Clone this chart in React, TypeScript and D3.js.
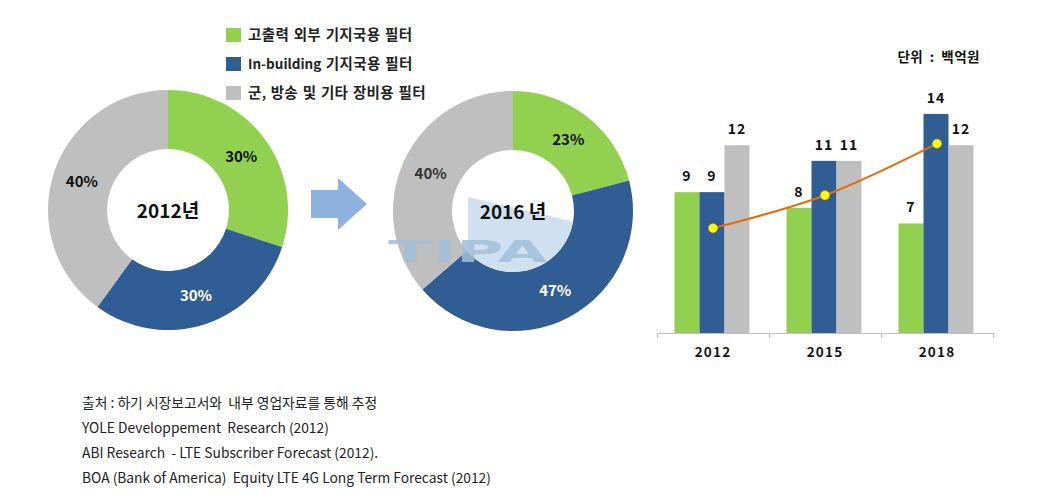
import React from "react";
import * as d3 from "d3";

const seriesNames = ["고출력 외부 기지국용 필터", "In-building 기지국용 필터", "군, 방송 및 기타 장비용 필터"];
const seriesColors = ["#92D050", "#305D93", "#BFBFBF"];

const donut2012 = [30, 30, 40];
const donut2016 = [23, 47, 40];
const donutTitles = ["2012년", "2016 년"];

const years = ["2012", "2015", "2018"];
const barGreen = [9, 8, 7];
const barBlue = [9, 11, 14];
const barGray = [12, 11, 12];
const lineValues = [6.7, 8.8, 12.1];

const unitLabel = "단위 : 백억원";
const watermark = "TIPA";
const sourceLines = [
  "출처 : 하기 시장보고서와  내부 영업자료를 통해 추정",
  "YOLE Developpement  Research (2012)",
  "ABI Research  - LTE Subscriber Forecast (2012).",
  "BOA (Bank of America)  Equity LTE 4G Long Term Forecast (2012)",
];

const FONT = "'Noto Sans CJK KR', 'Noto Sans', sans-serif";
const INNER = 61;
const OUTER = 120;

function splitRuns(s: string) {
  return s.split(/([가-힣]+)/).filter((p) => p.length > 0);
}

function Donut({ cx, cy, values, title, labelColors, children }: { cx: number; cy: number; values: number[]; title: string; labelColors: string[]; children?: React.ReactNode }) {
  const pie = d3.pie<number>().sort(null).value((d) => d);
  const arcs = pie(values);
  const arc = d3.arc<d3.PieArcDatum<number>>().innerRadius(INNER).outerRadius(OUTER);
  return (
    <g transform={`translate(${cx},${cy})`}>
      {arcs.map((a, i) => (
        <path key={i} d={arc(a) || ""} fill={seriesColors[i]} />
      ))}
      {children}
      {arcs.map((a, i) => {
        const [x, y] = arc.centroid(a);
        return (
          <text key={"l" + i} x={x} y={y} dy="0.35em" textAnchor="middle" fontSize={15} fontWeight="bold" fill={labelColors[i]} fontFamily={FONT}>
            {values[i]}%
          </text>
        );
      })}
      <text x={0} y={1} dy="0.35em" textAnchor="middle" fontSize={19} fontWeight="bold" fill="#111" fontFamily={FONT}>
        {title}
      </text>
    </g>
  );
}

export default function App() {
  const x0 = d3.scaleBand<string>().domain(years).range([657, 993]).paddingInner(0).paddingOuter(0);
  const y = d3.scaleLinear().domain([0, 14]).range([333, 333 - 14 * 15.65]);
  const barW = 25;
  const barSeries = [barGreen, barBlue, barGray];
  const cxOf = (yr: string) => (x0(yr) || 0) + x0.bandwidth() / 2;
  const line = d3
    .line<number>()
    .x((_, i) => cxOf(years[i]))
    .y((d) => y(d))
    .curve(d3.curveCatmullRom.alpha(0.5));

  return (
    <svg width={1043} height={499} style={{ position: "absolute", left: 0, top: 0, background: "#fff" }}>
      <defs>
        <clipPath id="innerClip">
          <circle cx={0} cy={0} r={INNER} />
        </clipPath>
      </defs>
      <rect width={1043} height={499} fill="#fff" />
      {/* Legend */}
      {seriesNames.map((n, i) => (
        <g key={n} transform={`translate(226,${28 + i * 29})`}>
          <rect width={15} height={14} fill={seriesColors[i]} />
          <text x={22} y={7} dy="0.35em" fontSize={14.5} fontWeight="bold" fill="#222" fontFamily={FONT} style={{ whiteSpace: "pre" }}>
            {splitRuns(n).map((r, k) =>
              /[가-힣]/.test(r) ? (
                <tspan key={k} letterSpacing={0.35}>{r}</tspan>
              ) : (
                <tspan key={k} fontSize={13.5} letterSpacing={0} wordSpacing={1.5}>{r}</tspan>
              )
            )}
          </text>
        </g>
      ))}

      <Donut cx={168} cy={210} values={donut2012} title={donutTitles[0]} labelColors={["#111", "#fff", "#111"]} />
      <Donut cx={513} cy={211} values={donut2016} title={donutTitles[1]} labelColors={["#111", "#fff", "#333"]}>
        <path d="M-45,-14 L62,11 L62,80 L-45,80 Z" fill="#CFE1F0" clipPath="url(#innerClip)" />
      </Donut>
      <text x={388} y={262} textLength={159} lengthAdjust="spacingAndGlyphs" fontSize={30} fontWeight="bold" fill="#A3BFDA" opacity={0.85} fontFamily="'DejaVu Sans', sans-serif">
        {watermark}
      </text>

      {/* Arrow */}
      <path d="M311,190 L338,190 L338,178 L367,204 L338,230 L338,218 L311,218 Z" fill="#8EB1DE" />

      {/* Bar chart */}
      <text x={980} y={57} dy="0.35em" textAnchor="end" fontSize={13.5} fontWeight="bold" letterSpacing={0.5} wordSpacing={3} fill="#111" fontFamily={FONT} style={{ whiteSpace: "pre" }}>
        {unitLabel}
      </text>
      {years.map((yr) => {
        const c = cxOf(yr);
        const start = c - (barW * 3) / 2 - 1;
        return (
          <g key={yr}>
            {barSeries.map((s, si) => {
              const v = s[years.indexOf(yr)];
              const bx = start + si * barW;
              return (
                <g key={si}>
                  <rect x={bx} y={y(v)} width={barW} height={y(0) - y(v)} fill={seriesColors[si]} />
                  <text x={bx + barW / 2} y={y(v) - 16} dy="0.35em" textAnchor="middle" fontSize={14} fontWeight="bold" letterSpacing={1} fill="#111" fontFamily={FONT}>
                    {v}
                  </text>
                </g>
              );
            })}
            <text x={c} y={352} dy="0.35em" textAnchor="middle" fontSize={13.5} fontWeight="bold" letterSpacing={1.2} fill="#111" fontFamily={FONT}>
              {yr}
            </text>
          </g>
        );
      })}
      <line x1={657} x2={993} y1={333.5} y2={333.5} stroke="#BFBFBF" strokeWidth={1} />
      {[657, 769, 881, 993].map((t) => (
        <line key={t} x1={t + 0.5} x2={t + 0.5} y1={333} y2={338} stroke="#BFBFBF" strokeWidth={1} />
      ))}
      <path d={line(lineValues) || ""} fill="none" stroke="#E46C0A" strokeWidth={2} />
      {lineValues.map((v, i) => (
        <circle key={i} cx={cxOf(years[i])} cy={y(v)} r={4.5} fill="#FFFF00" stroke="#F0C000" strokeWidth={0.5} />
      ))}

      {/* Source */}
      {sourceLines.map((s, i) => (
        <text key={i} x={82} y={403 + i * 25} dy="0.35em" fontSize={13.8} fill="#222" fontFamily={FONT} style={{ whiteSpace: "pre" }}>
          {s}
        </text>
      ))}
    </svg>
  );
}
